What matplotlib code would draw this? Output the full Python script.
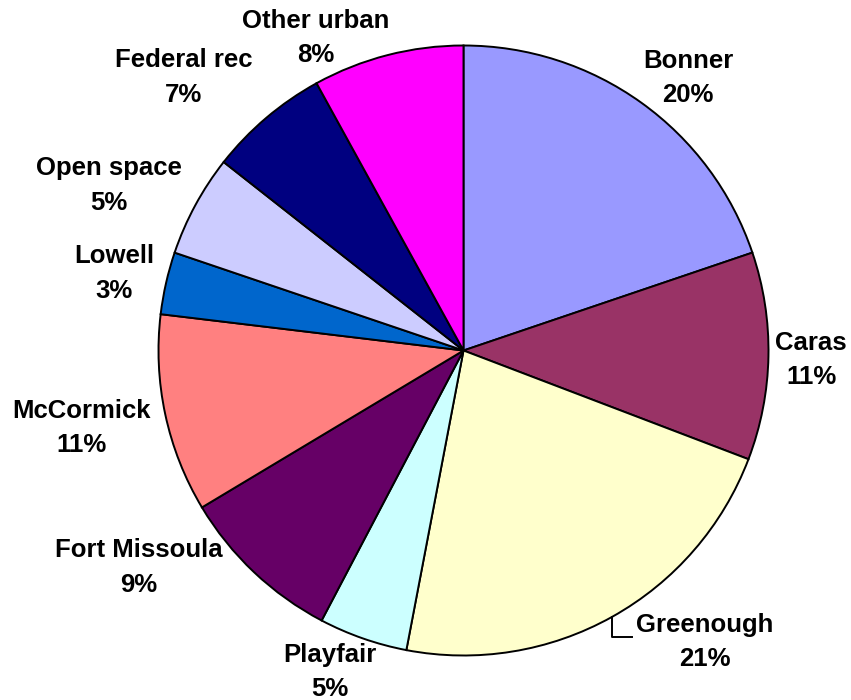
import numpy as np
import matplotlib
matplotlib.use("Agg")
import matplotlib.pyplot as plt

plt.rcParams['font.family'] = ['Liberation Sans', 'DejaVu Sans']

# slice data, clockwise from 12 o'clock
names = ["Bonner", "Caras", "Greenough", "Playfair", "Fort Missoula",
         "McCormick", "Lowell", "Open space", "Federal rec", "Other urban"]
shares = [19.8, 11.0, 22.2, 4.7, 8.7, 10.5, 3.3, 5.4, 6.4, 8.0]
pct_labels = ["20%", "11%", "21%", "5%", "9%", "11%", "3%", "5%", "7%", "8%"]
colors = ["#9999FF", "#993366", "#FFFFCC", "#CCFFFF", "#660066",
          "#FF8080", "#0066CC", "#CCCCFF", "#000080", "#FF00FF"]

# label layout in image pixels: (x centre, baseline of name line)
label_pos = [(688, 68), (811, 350), (705, 632), (330, 662), (139, 557),
             (82, 418), (114, 263), (109, 175), (184, 67), (316, 28)]

W, H = 851, 700
fig = plt.figure(figsize=(W / 100, H / 100), dpi=100)
ax = fig.add_axes([0, 0, 1, 1])

cx, cy, r = 463.5, H - 350.5, 305
wedges, _ = ax.pie(shares, colors=colors, startangle=90, counterclock=False,
                   center=(cx, cy), radius=r, frame=True,
                   wedgeprops=dict(edgecolor='black', linewidth=1.4))
ax.set_xlim(0, W)
ax.set_ylim(0, H)
ax.set_aspect('equal')
ax.axis('off')

for name, pct, (px, py) in zip(names, pct_labels, label_pos):
    ax.text(px, H - py, name, ha='center', va='baseline',
            fontsize=18.5, fontweight='bold')
    ax.text(px, H - py - 34.5, pct, ha='center', va='baseline',
            fontsize=18.5, fontweight='bold')

# leader line for Greenough
w = wedges[2]
mid = np.deg2rad((w.theta1 + w.theta2) / 2)
x0, y0 = cx + r * np.cos(mid), cy + r * np.sin(mid)
ax.plot([x0, x0, x0 + 20], [y0, y0 - 20, y0 - 20], color='black', lw=1.4)

fig.savefig("out.png", dpi=100, facecolor='white')
